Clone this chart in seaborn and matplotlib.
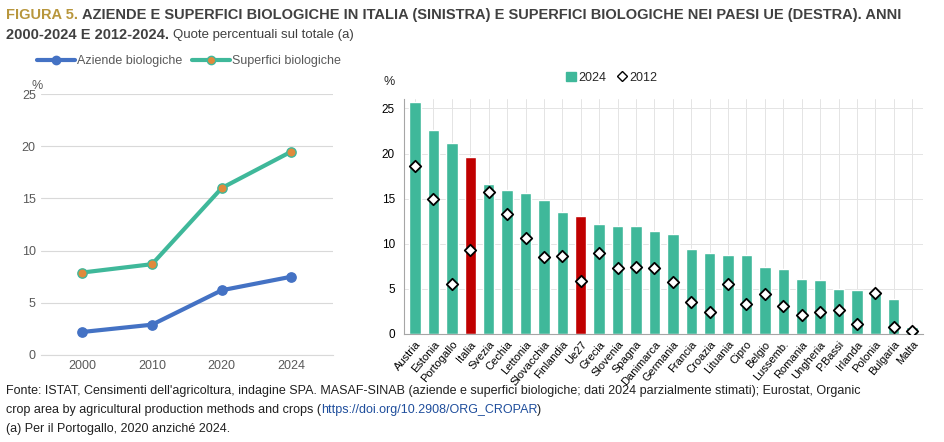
import numpy as np
import pandas as pd
import matplotlib
matplotlib.use("Agg")
import matplotlib.pyplot as plt
import seaborn as sns
from matplotlib.lines import Line2D
from matplotlib.patches import Patch

anni = ["2000", "2010", "2020", "2024"]
aziende = [2.2, 2.9, 6.2, 7.5]
superfici = [7.9, 8.7, 16.0, 19.5]

paesi = ["Austria", "Estonia", "Portogallo", "Italia", "Svezia", "Cechia", "Lettonia",
         "Slovacchia", "Finlandia", "Ue27", "Grecia", "Slovenia", "Spagna", "Danimarca",
         "Germania", "Francia", "Croazia", "Lituania", "Cipro", "Belgio", "Lussemb.",
         "Romania", "Ungheria", "P.Bassi", "Irlanda", "Polonia", "Bulgaria", "Malta"]
val_2024 = [25.7, 22.6, 21.2, 19.6, 16.6, 15.9, 15.6, 14.8, 13.5, 13.1, 12.2, 11.9, 11.9,
            11.4, 11.1, 9.4, 9.0, 8.7, 8.7, 7.4, 7.2, 6.1, 6.0, 5.0, 4.9, 4.6, 3.9, 0.7]
val_2012 = [18.6, 14.9, 5.5, 9.3, 15.7, 13.3, 10.6, 8.5, 8.6, 5.8, 9.0, 7.3, 7.4, 7.3,
            5.7, 3.5, 2.4, 5.5, 3.3, 4.4, 3.1, 2.1, 2.4, 2.6, 1.1, 4.5, 0.7, 0.3]

sns.set_style("white")
plt.rcParams["font.family"] = ["Liberation Sans", "DejaVu Sans"]

BLUE = "#4472c4"
GREEN = "#3fb89a"
ORANGE = "#e08a3c"
RED = "#c00000"
GREY = "#595959"

fig = plt.figure(figsize=(9.44, 4.42), dpi=100)
renderer = fig.canvas.get_renderer()


def text_run(y, parts):
    # place pieces of text one after another on the same line
    xpos = 0.006
    for s, kw in parts:
        t = fig.text(xpos, y, s, va="center", **kw)
        bb = t.get_window_extent(renderer)
        xpos += bb.width / fig.bbox.width


text_run(0.965, [("FIGURA 5. ", dict(color="#b8963c", fontsize=10.5, fontweight="bold")),
                 ("AZIENDE E SUPERFICI BIOLOGICHE IN ITALIA (SINISTRA) E SUPERFICI BIOLOGICHE NEI PAESI UE (DESTRA). ANNI",
                  dict(color="#404040", fontsize=10.5, fontweight="bold"))])
text_run(0.92, [("2000-2024 E 2012-2024. ", dict(color="#404040", fontsize=10.5, fontweight="bold")),
                ("Quote percentuali sul totale (a)", dict(color="#404040", fontsize=9.5))])

# left panel
ax1 = fig.add_axes([0.043, 0.197, 0.31, 0.59])
x = np.arange(len(anni))
df = pd.DataFrame({"x": np.concatenate([x, x]), "v": aziende + superfici,
                   "s": ["Aziende biologiche"] * 4 + ["Superfici biologiche"] * 4})
sns.lineplot(data=df, x="x", y="v", hue="s", palette=[BLUE, GREEN], linewidth=3,
             legend=False, ax=ax1)
ax1.scatter(x, aziende, color=BLUE, s=45, zorder=5)
ax1.scatter(x, superfici, color=ORANGE, s=45, zorder=5, edgecolor=GREEN, linewidth=1)
ax1.set_xlim(-0.6, 3.6)
ax1.set_ylim(0, 25)
ax1.set_xticks(x, anni)
ax1.set_yticks(range(0, 26, 5))
ax1.set_xlabel("")
ax1.set_ylabel("")
ax1.grid(axis="y", color="#d9d9d9", linewidth=0.8)
for s in ["top", "right", "left"]:
    ax1.spines[s].set_visible(False)
ax1.spines["bottom"].set_color("#d9d9d9")
ax1.tick_params(colors=GREY, labelsize=9, length=0)
ax1.text(-0.03, 1.02, "%", transform=ax1.transAxes, color=GREY, fontsize=9)
h1 = [Line2D([], [], color=BLUE, lw=3, marker="o", markersize=6, label="Aziende biologiche"),
      Line2D([], [], color=GREEN, lw=3, marker="o", markersize=6, markerfacecolor=ORANGE,
             label="Superfici biologiche")]
ax1.legend(handles=h1, loc="lower left", bbox_to_anchor=(-0.05, 1.06), ncol=2, frameon=False,
           fontsize=9, handlelength=3, columnspacing=0.8, handletextpad=0.2, labelcolor=GREY)

# right panel
ax2 = fig.add_axes([0.428, 0.245, 0.55, 0.53])
pos = np.arange(len(paesi))
colors = [RED if p in ("Italia", "Ue27") else GREEN for p in paesi]
sns.barplot(x=pos, y=val_2024, hue=pos, palette=colors, legend=False, width=0.62,
            saturation=1, ax=ax2, native_scale=True)
ax2.scatter(pos, val_2012, marker="D", s=34, facecolor="white", edgecolor="black",
            linewidth=1.3, zorder=5)
ax2.set_xlim(-0.6, len(paesi) - 0.4)
ax2.set_ylim(0, 26)
ax2.set_yticks(range(0, 26, 5))
ax2.set_xticks(pos, paesi, rotation=50, ha="right", rotation_mode="anchor")
ax2.grid(axis="both", color="#e4e4e4", linewidth=0.7)
ax2.set_axisbelow(True)
for s in ["top", "right"]:
    ax2.spines[s].set_visible(False)
ax2.spines["left"].set_color("#a6a6a6")
ax2.spines["bottom"].set_color("#a6a6a6")
ax2.tick_params(colors="black", labelsize=8.5, length=3, color="#a6a6a6")
ax2.tick_params(axis="x", labelsize=8, pad=1)
ax2.text(-0.04, 1.06, "%", transform=ax2.transAxes, fontsize=9)
h2 = [Patch(color=GREEN, label="2024"),
      Line2D([], [], marker="D", ls="", markerfacecolor="white", markeredgecolor="black",
             markersize=5, label="2012")]
ax2.legend(handles=h2, loc="lower center", bbox_to_anchor=(0.4, 1.02), ncol=2, frameon=False,
           fontsize=9, handlelength=0.8, handletextpad=0.2, columnspacing=0.8)

src = dict(fontsize=9, color="#202020")
text_run(0.115, [("Fonte: ISTAT, Censimenti dell'agricoltura, indagine SPA. MASAF-SINAB (aziende e superfici biologiche; dati 2024 parzialmente stimati); Eurostat, Organic", src)])
text_run(0.072, [("crop area by agricultural production methods and crops (", src),
                 ("https://doi.org/10.2908/ORG_CROPAR", dict(fontsize=9, color="#1f4e9c")),
                 (")", src)])
text_run(0.03, [("(a) Per il Portogallo, 2020 anzich\u00e9 2024.", src)])

fig.savefig("out.png", dpi=100)
